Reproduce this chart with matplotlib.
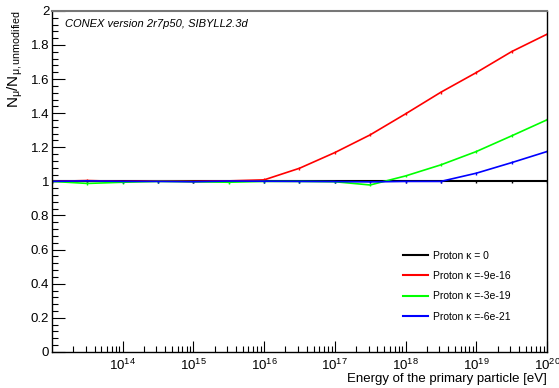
import numpy as np
import matplotlib
matplotlib.use("Agg")
import matplotlib.pyplot as plt
from matplotlib.ticker import LogLocator, FixedLocator, MultipleLocator, NullFormatter
from matplotlib.lines import Line2D

plt.rcParams['font.family'] = ['Liberation Sans', 'DejaVu Sans']
plt.rcParams['mathtext.fontset'] = 'custom'
plt.rcParams['mathtext.rm'] = 'Liberation Sans'
plt.rcParams['mathtext.it'] = 'Liberation Sans'
plt.rcParams['mathtext.bf'] = 'Liberation Sans:bold'

log_energy = [13.0, 13.5, 14.0, 14.5, 15.0, 15.5, 16.0, 16.5, 17.0, 17.5, 18.0, 18.5, 19.0, 19.5, 20.0]
ratio_k0 = [1.0] * 15
ratio_9e16 = [1.0, 1.005, 1.0, 1.003, 1.0, 1.003, 1.009, 1.077, 1.169, 1.273, 1.396, 1.523, 1.638, 1.761, 1.863]
ratio_3e19 = [1.0, 0.988, 0.995, 1.0, 0.998, 0.995, 1.0, 1.0, 0.998, 0.979, 1.032, 1.097, 1.175, 1.267, 1.361]
ratio_6e21 = [1.0, 1.003, 1.0, 1.0, 0.998, 1.002, 1.001, 1.0, 0.999, 0.997, 1.0, 1.0, 1.048, 1.110, 1.175]

series = [
    (ratio_k0, 'black', 'Proton κ = 0'),
    (ratio_9e16, '#ff0000', 'Proton κ =-9e-16'),
    (ratio_3e19, '#00ff00', 'Proton κ =-3e-19'),
    (ratio_6e21, '#0000ff', 'Proton κ =-6e-21'),
]

energy = 10 ** np.array(log_energy)

fig = plt.figure(figsize=(5.59, 3.88), dpi=100)
ax = fig.add_axes([0.093, 0.093, 0.8855, 0.879])

for vals, col, lab in series:
    lw = 1.5 if col == 'black' else 1.2
    ax.errorbar(energy, vals, yerr=0.008, color=col, lw=lw, elinewidth=1.0,
                capsize=0, label=lab)

ax.set_xscale('log')
ax.set_xlim(1e13, 1e20)
ax.set_ylim(0, 2)

ax.xaxis.set_major_locator(FixedLocator([1e14, 1e15, 1e16, 1e17, 1e18, 1e19, 1e20]))
ax.xaxis.set_minor_locator(LogLocator(base=10, subs=np.arange(2, 10), numticks=20))
ax.xaxis.set_minor_formatter(NullFormatter())
ax.yaxis.set_major_locator(MultipleLocator(0.2))
ax.yaxis.set_minor_locator(MultipleLocator(0.04))
ax.yaxis.set_major_formatter(plt.FuncFormatter(lambda v, p: ('%g' % round(v, 2))))

ax.tick_params(which='both', direction='in', top=False, right=False, labelsize=9.5, width=0.8)
ax.tick_params(which='major', axis='y', length=9)
ax.tick_params(which='minor', axis='y', length=4.5)
ax.tick_params(which='major', axis='x', length=8)
ax.tick_params(which='minor', axis='x', length=4)
ax.tick_params(axis='x', pad=4)
ax.tick_params(axis='y', pad=2)

ax.spines['top'].set_color('#777777')
ax.spines['top'].set_linewidth(1.5)
for s in ['left', 'right', 'bottom']:
    ax.spines[s].set_linewidth(1.0)

ax.set_xlabel('Energy of the primary particle [eV]', fontsize=9.5, loc='right', labelpad=0)
ax.set_ylabel(r'N$_{\mu}$/N$_{\mu,\mathrm{unmodified}}$', fontsize=11, loc='top', labelpad=4)

ax.text(0.027, 0.975, 'CONEX version 2r7p50, SIBYLL2.3d', transform=ax.transAxes,
        fontsize=8, style='italic', va='top', ha='left')

labels = [lab for _, _, lab in series]
h2 = [Line2D([0], [0], color=c, lw=1.5) for _, c, _ in series]
ax.legend(h2, labels, loc='lower left', bbox_to_anchor=(0.709, 0.088), frameon=False,
          fontsize=7.5, handlelength=2.4, labelspacing=1.0, handletextpad=0.5,
          borderpad=0, borderaxespad=0)

fig.savefig('out.png', dpi=100)
